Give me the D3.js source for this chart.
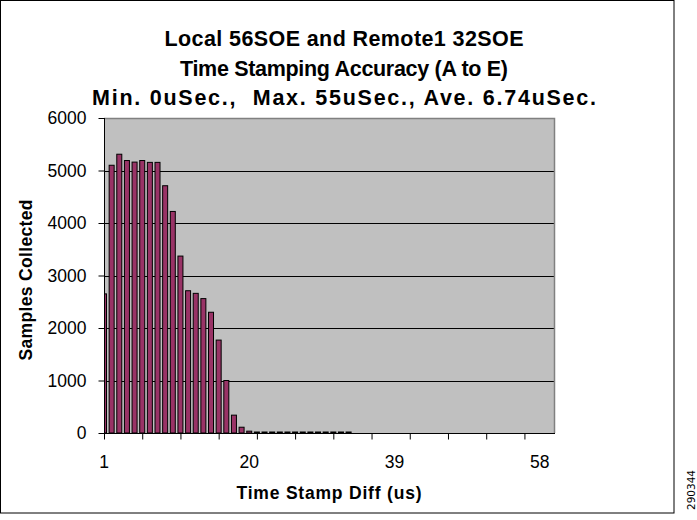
<!DOCTYPE html>
<html><head><meta charset="utf-8">
<script src="https://cdn.jsdelivr.net/npm/d3@7"></script>
<style>body{margin:0;background:#fff}svg{display:block}text{white-space:pre}</style>
</head><body>
<script>
const titleLines = ["Local 56SOE and Remote1 32SOE","Time Stamping Accuracy (A to E)","Min. 0uSec.,  Max. 55uSec., Ave. 6.74uSec."];
const titleWidths = [359,328,504];
const categories = d3.range(1, 61);
const samples = [2650,5100,5310,5190,5160,5190,5155,5155,4710,4220,3370,2710,2660,2560,2300,1770,1000,340,110,35,14,12,11,10,10,9,9,8,8,8,7,7,7,0,0,0,0,0,0,0,0,0,0,0,0,0,0,0,0,0,0,0,0,0,0,0,0,0,0,0];
const yTicks = [0,1000,2000,3000,4000,5000,6000];
const xTickLabels = [1,20,39,58];
const xTickMarks = [1,6,11,16,21,26,31,36,41,46,51,56];
const yTitle = "Samples Collected";
const xTitle = "Time Stamp Diff (us)";
const figId = "290344";

const W=697,H=520;
const L=104,R=555,T=118,B=433;
const svg=d3.select("body").append("svg").attr("width",W).attr("height",H);
svg.append("rect").attr("x",0.5).attr("y",0.5).attr("width",673.5).attr("height",512.5).attr("fill","#fff").attr("stroke","#000");

const x=d3.scalePoint().domain(categories).range([L,R]);
const y=d3.scaleLinear().domain([0,6000]).range([B,T]);

svg.append("rect").attr("x",L).attr("y",T).attr("width",R-L).attr("height",B-T).attr("fill","#c0c0c0");
svg.append("defs").append("clipPath").attr("id","clip").append("rect").attr("x",L).attr("y",T-1).attr("width",R-L).attr("height",B-T+1);

svg.append("g").selectAll("line").data(yTicks.filter(d=>d>0&&d<6000)).join("line")
 .attr("x1",L).attr("x2",R).attr("y1",d=>Math.round(y(d))+0.5).attr("y2",d=>Math.round(y(d))+0.5).attr("stroke","#000");
svg.append("path").attr("d",`M${L},${T+0.5}H${R-0.5}V${B}`).attr("fill","none").attr("stroke","#808080").attr("stroke-width",1.5);

const bw=5;
svg.append("g").attr("clip-path","url(#clip)").selectAll("rect").data(categories.map((c,i)=>({c,v:samples[i]})).filter(d=>d.v>0)).join("rect")
 .attr("x",d=>x(d.c)-bw/2).attr("width",bw)
 .attr("y",d=>Math.min(y(d.v),B-1)).attr("height",d=>Math.max(B-y(d.v),1))
 .attr("fill","#993366").attr("stroke","#000").attr("stroke-width",1);

const tf="Liberation Sans, Arial, sans-serif";
const yAxis=svg.append("g").attr("transform",`translate(${L+0.5},0)`)
 .call(d3.axisLeft(y).tickValues(yTicks).tickSize(6).tickPadding(12).tickFormat(d3.format("d")));
const xAxis=svg.append("g").attr("transform",`translate(0,${B+0.5})`)
 .call(d3.axisBottom(x).tickValues(xTickMarks).tickSize(6).tickFormat(""));
[yAxis,xAxis].forEach(g=>{g.select(".domain").attr("stroke","#000");g.selectAll("line").attr("stroke","#000");});
xAxis.select(".domain").attr("d",`M${L},0H${R}`);
yAxis.select(".domain").attr("d",`M0,${B}V${T}`);
yAxis.selectAll("text").attr("font-family",tf).attr("font-size",17.5).attr("fill","#000");

svg.append("g").selectAll("text").data(xTickLabels).join("text")
 .attr("x",d=>x(d)).attr("y",468).attr("text-anchor","middle")
 .attr("font-family",tf).attr("font-size",17.5).text(d=>d);

svg.append("g").selectAll("text").data(titleLines).join("text")
 .attr("x",344).attr("y",(d,i)=>46+i*29.5).attr("text-anchor","middle")
 .attr("font-family",tf).attr("font-weight","bold").attr("font-size",21.5)
 .attr("textLength",(d,i)=>titleWidths[i]).attr("lengthAdjust","spacing").text(d=>d);

svg.append("text").attr("x",329).attr("y",499).attr("text-anchor","middle")
 .attr("font-family",tf).attr("font-weight","bold").attr("font-size",17.5)
 .attr("textLength",185).attr("lengthAdjust","spacing").text(xTitle);
svg.append("text").attr("transform","translate(32,280) rotate(-90)").attr("text-anchor","middle")
 .attr("font-family",tf).attr("font-weight","bold").attr("font-size",17.5)
 .attr("textLength",161).attr("lengthAdjust","spacing").text(yTitle);
svg.append("text").attr("transform","translate(695,490) rotate(-90)").attr("text-anchor","middle")
 .attr("font-family","DejaVu Sans, sans-serif").attr("font-size",10.5).text(figId);
</script>
</body></html>
